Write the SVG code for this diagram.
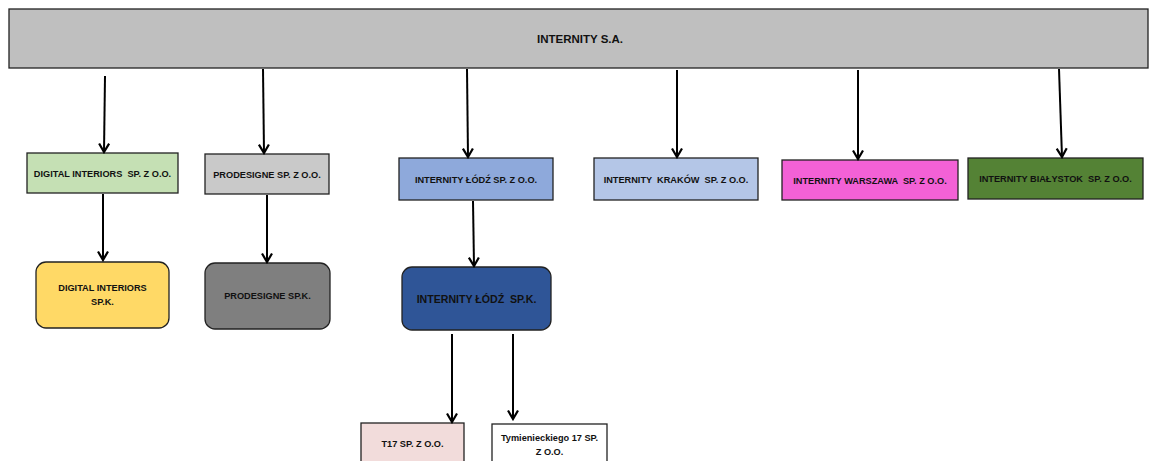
<svg xmlns="http://www.w3.org/2000/svg" width="1149" height="461" viewBox="0 0 1149 461">
<style>
.n{stroke:#222;stroke-width:1.3}
.t{font-family:"Liberation Sans",Arial,sans-serif;font-weight:bold;font-size:9.2px;fill:#111;text-anchor:middle}
.c{stroke:#000;stroke-width:2;fill:none;marker-end:url(#a)}
</style>
<defs>
<marker id="a" markerWidth="14" markerHeight="14" refX="12" refY="7" orient="auto" markerUnits="userSpaceOnUse" viewBox="0 0 14 14">
<path d="M3.5,2 L12,7 L3.5,12" fill="none" stroke="#000" stroke-width="2.2"/>
</marker>
</defs>
<rect width="1149" height="461" fill="#fff"/>
<g id="internity-sa"><rect class="n" x="9" y="9" width="1139" height="59" fill="#BFBFBF"/><text class="t" x="580" y="43" style="font-size:11.5px">INTERNITY S.A.</text></g>
<g id="digital-zoo"><rect class="n" x="27" y="153" width="151" height="40" fill="#C5E0B4"/><text class="t" x="102.5" y="176.5" xml:space="preserve">DIGITAL INTERIORS  SP. Z O.O.</text></g>
<g id="prodesigne-zoo"><rect class="n" x="205" y="154" width="124" height="40" fill="#C9C9C9"/><text class="t" x="267" y="177.5">PRODESIGNE SP. Z O.O.</text></g>
<g id="lodz-zoo"><rect class="n" x="399" y="158" width="154" height="42" fill="#8EA9DB"/><text class="t" x="476" y="182.5">INTERNITY ŁÓDŹ SP. Z O.O.</text></g>
<g id="krakow-zoo"><rect class="n" x="594" y="158" width="164" height="42" fill="#B4C6E7"/><text class="t" x="676" y="182.5" xml:space="preserve">INTERNITY  KRAKÓW  SP. Z O.O.</text></g>
<g id="warszawa-zoo"><rect class="n" x="782" y="160" width="176" height="40" fill="#F361D6"/><text class="t" x="870" y="183.5" xml:space="preserve">INTERNITY WARSZAWA  SP. Z O.O.</text></g>
<g id="bialystok-zoo"><rect class="n" x="968" y="158" width="175" height="41" fill="#548235"/><text class="t" x="1055.5" y="182" xml:space="preserve">INTERNITY BIAŁYSTOK  SP. Z O.O.</text></g>
<g id="digital-spk"><rect class="n" x="36" y="262" width="133" height="66" rx="10" fill="#FFD966"/><text class="t" x="102.5" y="291">DIGITAL INTERIORS</text><text class="t" x="102.5" y="305">SP.K.</text></g>
<g id="prodesigne-spk"><rect class="n" x="205" y="263" width="125" height="66" rx="10" fill="#7F7F7F"/><text class="t" x="267.5" y="299">PRODESIGNE SP.K.</text></g>
<g id="lodz-spk"><rect class="n" x="402" y="267" width="149" height="63" rx="10" fill="#2F5597"/><text class="t" x="476.5" y="302.5" style="font-size:10.6px" xml:space="preserve">INTERNITY ŁÓDŹ  SP.K.</text></g>
<g id="t17"><rect class="n" x="361" y="423" width="103" height="45" fill="#F2DCDB"/><text class="t" x="412.5" y="447">T17 SP. Z O.O.</text></g>
<g id="tymienieckiego"><rect class="n" x="492" y="424" width="115" height="45" fill="#fff"/><text class="t" x="549.5" y="441">Tymienieckiego 17 SP.</text><text class="t" x="549.5" y="455">Z O.O.</text></g>
<g id="connectors">
<path class="c" d="M105,76 L104,152"/>
<path class="c" d="M263,69 L264,153"/>
<path class="c" d="M467,69 L468,157"/>
<path class="c" d="M677,70 L677,157"/>
<path class="c" d="M858,70 L858,159"/>
<path class="c" d="M1059,69 L1062,157"/>
<path class="c" d="M103,194 L103,260"/>
<path class="c" d="M267,195 L267,262"/>
<path class="c" d="M473,201 L474,266"/>
<path class="c" d="M452,334 L452,422"/>
<path class="c" d="M513,334 L513,419"/>
</g>
</svg>
